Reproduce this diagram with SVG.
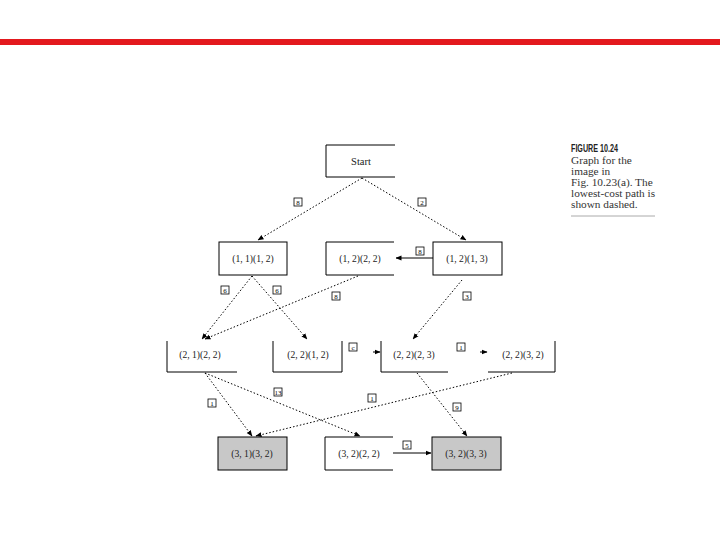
<svg xmlns="http://www.w3.org/2000/svg" width="720" height="540" viewBox="0 0 720 540">
<defs>
<marker id="ah" viewBox="0 0 6 6" refX="5.5" refY="3" markerWidth="6" markerHeight="6" markerUnits="userSpaceOnUse" orient="auto">
<path d="M0,0.5 L6,3 L0,5.5 Z" fill="#000"/>
</marker>
<style>
.bx{fill:#fff;stroke:#000;stroke-width:1}
.gr{fill:#c8c8c8;stroke:#000;stroke-width:1}
.ln{fill:none;stroke:#000;stroke-width:1}
.nt{font-family:"Liberation Serif",serif;font-size:9.6px;fill:#222;text-anchor:middle}
.dot{fill:none;stroke:#000;stroke-width:1;stroke-dasharray:1.5 2;marker-end:url(#ah)}
.sol{fill:none;stroke:#000;stroke-width:1;marker-end:url(#ah)}
.lb{fill:#fff;stroke:#000;stroke-width:0.8}
.lt{font-family:"Liberation Serif",serif;font-size:7px;fill:#000;text-anchor:middle}
.cap{font-family:"Liberation Serif",serif;font-size:11.3px;fill:#333}
.caph{font-family:"Liberation Sans",sans-serif;font-size:11px;font-weight:bold;fill:#222}
</style>
</defs>
<rect x="0" y="0" width="720" height="540" fill="#fff"/>
<rect x="0" y="39" width="720" height="6" fill="#e3191e"/>

<g id="caption">
<text class="caph" x="571" y="152" textLength="47" lengthAdjust="spacingAndGlyphs">FIGURE 10.24</text>
<text class="cap" x="571" y="164">Graph for the</text>
<text class="cap" x="571" y="175">image in</text>
<text class="cap" x="571" y="186">Fig. 10.23(a). The</text>
<text class="cap" x="571" y="197">lowest-cost path is</text>
<text class="cap" x="571" y="208">shown dashed.</text>
<line x1="571" y1="216" x2="655" y2="216" stroke="#aaa" stroke-width="1"/>
</g>

<g id="connectors">
<line class="dot" x1="362" y1="178" x2="258" y2="240"/>
<line class="dot" x1="362" y1="178" x2="466" y2="240"/>
<line class="sol" x1="433" y1="258" x2="396" y2="258"/>
<line class="dot" x1="252" y1="276" x2="202" y2="339"/>
<line class="dot" x1="252" y1="276" x2="307" y2="339"/>
<line class="dot" x1="358" y1="276" x2="205" y2="339"/>
<line class="dot" x1="462" y1="280" x2="413" y2="339"/>
<line class="sol" x1="373" y1="352" x2="380" y2="352"/>
<line class="sol" x1="480" y1="352" x2="487" y2="352"/>
<line class="dot" x1="205" y1="373" x2="252" y2="436"/>
<line class="dot" x1="205" y1="373" x2="360" y2="436"/>
<line class="dot" x1="512" y1="373" x2="256" y2="436"/>
<line class="dot" x1="417" y1="373" x2="467" y2="436"/>
<line class="sol" x1="393" y1="453" x2="431" y2="453"/>
</g>

<g id="edge-labels">
<rect class="lb" x="294" y="198" width="8" height="8"/><text class="lt" x="298" y="204.5">8</text>
<rect class="lb" x="418" y="198" width="8" height="8"/><text class="lt" x="422" y="204.5">2</text>
<rect class="lb" x="416" y="247" width="8" height="8"/><text class="lt" x="420" y="253.5">8</text>
<rect class="lb" x="221" y="286" width="8" height="8"/><text class="lt" x="225" y="292.5">6</text>
<rect class="lb" x="273" y="286" width="8" height="8"/><text class="lt" x="277" y="292.5">6</text>
<rect class="lb" x="332" y="292" width="8" height="8"/><text class="lt" x="336" y="298.5">8</text>
<rect class="lb" x="463" y="292" width="8" height="8"/><text class="lt" x="467" y="298.5">3</text>
<rect class="lb" x="349" y="343" width="8" height="8"/><text class="lt" x="353" y="349.5">c</text>
<rect class="lb" x="457" y="343" width="8" height="8"/><text class="lt" x="461" y="349.5">1</text>
<rect class="lb" x="208" y="399" width="8" height="8"/><text class="lt" x="212" y="405.5">1</text>
<rect class="lb" x="274" y="388" width="8" height="8"/><text class="lt" x="278" y="394.5">13</text>
<rect class="lb" x="368" y="394" width="8" height="8"/><text class="lt" x="372" y="400.5">1</text>
<rect class="lb" x="453" y="403" width="8" height="8"/><text class="lt" x="457" y="409.5">9</text>
<rect class="lb" x="403" y="441" width="8" height="8"/><text class="lt" x="407" y="447.5">5</text>
</g>

<g id="start">
<path class="ln" d="M395,145 H326 V177 H395"/>
<text class="nt" x="361" y="165" style="font-size:10.5px">Start</text>
</g>
<g id="n11-12">
<rect class="bx" x="219" y="242" width="68" height="33"/>
<text class="nt" x="253" y="262">(1, 1)(1, 2)</text>
</g>
<g id="n12-22">
<path class="ln" d="M394,242 H326 V275 H394"/>
<text class="nt" x="360" y="262">(1, 2)(2, 2)</text>
</g>
<g id="n12-13">
<rect class="bx" x="433" y="242" width="69" height="33"/>
<text class="nt" x="467" y="262">(1, 2)(1, 3)</text>
</g>
<g id="n21-22">
<path class="ln" d="M167,341 V372 H237"/>
<text class="nt" x="200" y="358">(2, 1)(2, 2)</text>
</g>
<g id="n22-12">
<path class="ln" d="M273,341 V372 H342 V341"/>
<text class="nt" x="308" y="358">(2, 2)(1, 2)</text>
</g>
<g id="n22-23">
<path class="ln" d="M381,341 V372 H448"/>
<text class="nt" x="414" y="358">(2, 2)(2, 3)</text>
</g>
<g id="n22-32">
<path class="ln" d="M488,372 H555 V341"/>
<text class="nt" x="523" y="358">(2, 2)(3, 2)</text>
</g>
<g id="n31-32">
<rect class="gr" x="218" y="437" width="69" height="33"/>
<text class="nt" x="252" y="457">(3, 1)(3, 2)</text>
</g>
<g id="n32-22">
<path class="ln" d="M393,437 H325 V470 H393"/>
<text class="nt" x="359" y="457">(3, 2)(2, 2)</text>
</g>
<g id="n32-33">
<rect class="gr" x="432" y="437" width="69" height="33"/>
<text class="nt" x="466" y="457">(3, 2)(3, 3)</text>
</g>
</svg>
